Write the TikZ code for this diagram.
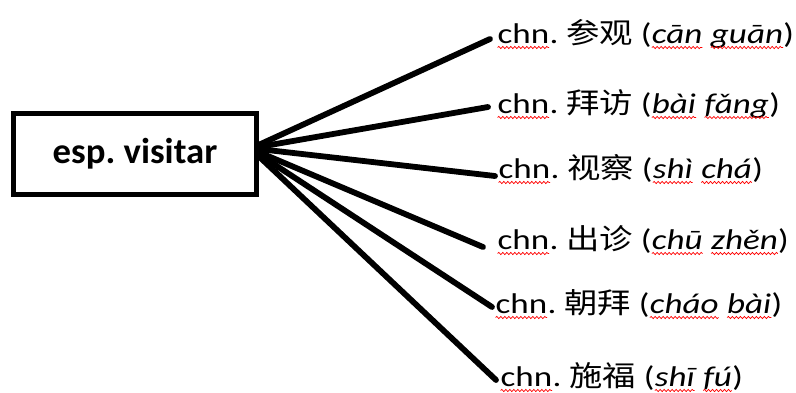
\documentclass[tikz,border=0pt]{standalone}
\usepackage{fontspec}
\usetikzlibrary{decorations.pathmorphing}
\setmainfont{Carlito}
\newfontfamily\entryfont{Carlito}[FakeStretch=1.23]
\newfontfamily\titlefont{Carlito}[FakeStretch=1.02]
\newfontfamily\cjk{Noto Sans CJK SC}[FakeStretch=1.17]
\frenchspacing
\tikzset{
  wave/.style={draw=red, line width=0.7bp, decorate,
    decoration={snake, amplitude=1.1bp, segment length=4bp}},
  mainbox/.style={draw, line width=5bp, minimum width=242bp, minimum height=81bp, inner sep=0pt,
    font=\titlefont\fontsize{36bp}{40bp}\selectfont\bfseries},
  entry/.style={anchor=base west, inner sep=0pt, font=\entryfont\fontsize{28.5bp}{34bp}\selectfont},
  link/.style={line width=5.8bp, line cap=round}
}
\newcommand\sq[1]{\tikz[baseline=(w.base)]{\node[anchor=base, inner sep=0pt, outer sep=0pt] (w) {#1};
  \draw[wave] ([yshift=-4.5bp]w.base west) -- ([yshift=-4.5bp]w.base east);}}
\newcommand\py[1]{\textit{#1}}
\begin{document}
\begin{tikzpicture}[x=1bp,y=-1bp]
\useasboundingbox (0,0) rectangle (796,392);
\node[mainbox] (src) at (135,154) {esp. visitar};
\node[entry] (t1) at (497,43) {\sq{chn}. {\cjk 参观} (\py{\sq{cān} \sq{guān}})};
\node[entry] (t2) at (497,113) {\sq{chn}. {\cjk 拜访} (\py{\sq{bài} \sq{fǎng}})};
\node[entry] (t3) at (498,178) {\sq{chn}. {\cjk 视察} (\py{\sq{shì} \sq{chá}})};
\node[entry] (t4) at (497,249) {\sq{chn}. {\cjk 出诊} (\py{\sq{chū} \sq{zhěn}})};
\node[entry] (t5) at (495,313) {\sq{chn}. {\cjk 朝拜} (\py{\sq{cháo} \sq{bài}})};
\node[entry] (t6) at (500,386) {\sq{chn}. {\cjk 施福} (\py{\sq{shī} \sq{fú}})};
\coordinate (e1) at (490,39);
\coordinate (e2) at (488,107);
\coordinate (e3) at (495,176);
\coordinate (e4) at (483,247);
\coordinate (e5) at (492,307);
\coordinate (e6) at (496,380);
\draw[link] ([yshift=9bp]src.east) -- (e1);
\draw[link] ([yshift=7bp]src.east) -- (e2);
\draw[link] ([yshift=5bp]src.east) -- (e3);
\draw[link] ([yshift=2bp]src.east) -- (e4);
\draw[link] ([yshift=0bp]src.east) -- (e5);
\draw[link] ([yshift=-2bp]src.east) -- (e6);
\end{tikzpicture}
\end{document}
